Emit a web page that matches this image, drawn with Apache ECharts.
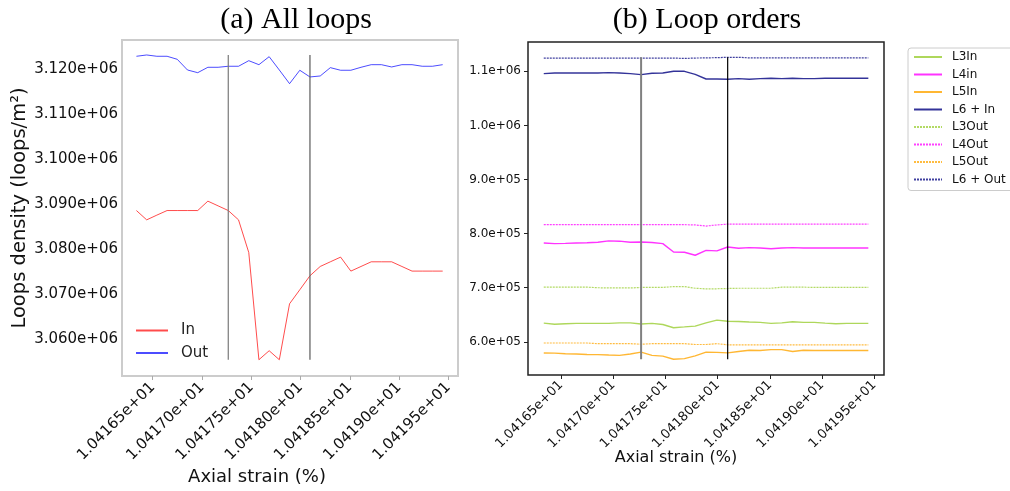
<!DOCTYPE html>
<html>
<head>
<meta charset="utf-8">
<script src="https://cdn.jsdelivr.net/npm/echarts@6/dist/echarts.min.js"></script>
<style>
html,body{margin:0;padding:0;background:#fff;}
#chart{width:1010px;height:491px;}
</style>
</head>
<body>
<div id="chart"></div>
<script>
// ---- data ----
const strain = [10.416335,10.416439,10.416542,10.416646,10.416749,10.416853,10.416957,10.417060,10.417164,10.417267,
  10.417371,10.417475,10.417578,10.417682,10.417785,10.417889,10.417993,10.418096,10.418200,10.418303,
  10.418407,10.418511,10.418614,10.418718,10.418821,10.418925,10.419029,10.419132,10.419236,10.419339,10.419443];

const allIn = [3088580,3086510,3087560,3088580,3088580,3088580,3088580,3090670,3089620,3088580,
  3086510,3079240,3055400,3057400,3055400,3067840,3070960,3074070,3076140,3077180,
  3078220,3075110,3076140,3077180,3077180,3077180,3076140,3075110,3075110,3075110,3075110];
const allOut = [3122890,3123180,3122890,3122890,3122220,3119840,3119240,3120440,3120440,3120670,
  3120670,3121910,3121020,3122800,3119840,3116800,3119780,3118290,3118510,3120360,
  3119780,3119780,3120440,3121020,3121020,3120510,3121020,3121020,3120670,3120670,3121020];

const L3In = [634500,632500,633500,634000,634000,634000,634000,635000,635000,633000,
  634000,632000,626000,627500,629000,635000,640000,638000,637500,636500,
  636000,634000,635000,637000,636000,636000,634500,633500,634000,634000,634000];
const L4In = [782600,781500,782000,782600,783000,784000,786500,786000,784000,784500,
  783500,781500,766000,765500,760000,769000,768000,775200,772800,774000,
  773500,772000,773500,774000,773400,773400,773400,773400,773400,773400,773400];
const L5In = [579300,579000,578000,577500,576500,576300,575500,575000,577500,581000,
  575000,573500,567700,569000,574000,581000,580500,579500,582000,584500,
  584000,585500,585500,582000,584500,584000,584000,584000,584000,584000,584000];
const L6In = [1095750,1096860,1096860,1096860,1096860,1096860,1097600,1096860,1095750,1093900,
  1096300,1096860,1100000,1100000,1094450,1085770,1085770,1085210,1086510,1085210,
  1086510,1087060,1086510,1087060,1086510,1086510,1087060,1087060,1087060,1087060,1087060];
const L3Out = [701000,701000,701000,701000,701000,700000,699500,699500,699500,700500,
  700500,700500,702000,702000,699000,697800,698000,698500,699000,699000,
  699000,699000,701000,701000,701000,700500,700500,700500,700500,700500,700500];
const L4Out = [816500,816500,816500,816500,816500,816500,816500,816500,816500,816500,
  816500,816500,816500,816500,816000,814000,816000,817500,817500,817500,
  817500,817500,817500,817500,817500,817500,817500,817500,817500,817500,817500];
const L5Out = [597800,597800,597800,597800,597800,596500,596500,596500,596500,595500,
  596500,596500,596500,596500,595000,595000,596500,594500,594500,594500,
  594500,594500,594500,594500,594500,594500,594500,594500,594500,594500,594500];
const L6Out = [1124500,1124500,1124500,1124500,1124500,1124500,1124500,1124500,1124500,1124500,
  1124500,1124500,1124500,1123800,1124500,1124800,1125200,1125900,1125900,1124800,
  1124800,1124800,1124800,1124800,1124800,1124800,1124800,1124800,1124800,1124800,1124800];

const xTicks = [10.4165,10.4170,10.4175,10.4180,10.4185,10.4190,10.4195];
const leftYTicks = [3060000,3070000,3080000,3090000,3100000,3110000,3120000];
const rightYTicks = [600000,700000,800000,900000,1000000,1100000];
const markIdx = [9,17];

// ---- helpers ----
function fmtExp(v, d){
  return Number(v).toExponential(d).replace(/e([+-])(\d+)$/, function(m,s,e){ return 'e'+s+(e.length<2?'0'+e:e); });
}
function pairs(arr){ return strain.map(function(x,i){ return [x, arr[i]]; }); }
const FONT = 'DejaVu Sans';

const leftAll = allIn.concat(allOut);
const leftMin = Math.min.apply(null,leftAll), leftMax = Math.max.apply(null,leftAll);
const rightAll = [].concat(L3In,L4In,L5In,L6In,L3Out,L4Out,L5Out,L6Out);
const rightMin = Math.min.apply(null,rightAll), rightMax = Math.max.apply(null,rightAll);

const series = [];
series.push({name:'In', type:'line', xAxisIndex:0, yAxisIndex:0, data:pairs(allIn), symbol:'none',
  lineStyle:{color:'rgba(255,0,0,0.7)', width:1}, itemStyle:{color:'rgba(255,0,0,0.7)'}});
series.push({name:'Out', type:'line', xAxisIndex:0, yAxisIndex:0, data:pairs(allOut), symbol:'none',
  lineStyle:{color:'rgba(0,0,255,0.7)', width:1}, itemStyle:{color:'rgba(0,0,255,0.7)'}});
const leftVColors = ['#7a7a7a','#5a5a5a'];
markIdx.forEach(function(k,j){
  series.push({type:'line', xAxisIndex:0, yAxisIndex:0, symbol:'none', silent:true,
    data:[[strain[k], leftMin],[strain[k], leftMax]], lineStyle:{color:leftVColors[j], width:1.2}});
});

const rightDefs = [
  ['L3In', L3In, '#9acd32', 'solid'],
  ['L4in', L4In, '#ff00ff', 'solid'],
  ['L5In', L5In, '#ffa500', 'solid'],
  ['L6 + In', L6In, '#000080', 'solid'],
  ['L3Out', L3Out, '#9acd32', 'dotted'],
  ['L4Out', L4Out, '#ff00ff', 'dotted'],
  ['L5Out', L5Out, '#ffa500', 'dotted'],
  ['L6 + Out', L6Out, '#000080', 'dotted']
];
rightDefs.forEach(function(d){
  const solid = d[3]==='solid';
  series.push({name:d[0], type:'line', xAxisIndex:1, yAxisIndex:1, data:pairs(d[1]), symbol:'none',
    lineStyle:{color:d[2], width: solid?1.4:1.2, opacity: solid?0.8:0.75, type: solid?'solid':[2,1]},
    itemStyle:{color:d[2]}});
});
const rightVStyles = [{color:'#808080', width:2},{color:'#000000', width:1.2}];
markIdx.forEach(function(k,j){
  series.push({type:'line', xAxisIndex:1, yAxisIndex:1, symbol:'none', silent:true, z:3,
    data:[[strain[k], rightMin],[strain[k], rightMax]], lineStyle:rightVStyles[j]});
});

const option = {
  animation:false,
  backgroundColor:'#ffffff',
  title:[
    {text:'(a) All loops', left:291, top:0, textAlign:'center',
      textStyle:{fontFamily:'Liberation Serif', fontSize:30, fontWeight:'normal', color:'#000'}},
    {text:'(b) Loop orders', left:702, top:0, textAlign:'center',
      textStyle:{fontFamily:'Liberation Serif', fontSize:30, fontWeight:'normal', color:'#000'}}
  ],
  legend:[
    {data:['In','Out'], left:135, top:323, orient:'vertical', itemWidth:32, itemHeight:16, itemGap:7.5,
      padding:0, itemStyle:{opacity:0},
      textStyle:{fontFamily:FONT, fontSize:15, color:'#222', padding:[0,0,0,8]}},
    {data:rightDefs.map(function(d){return d[0];}), left:908, top:48, orient:'vertical',
      itemWidth:28, itemHeight:14, itemGap:5.5, padding:[3,12,5,5], itemStyle:{opacity:0},
      borderColor:'#cccccc', borderWidth:1, borderRadius:3, backgroundColor:'#fff',
      textStyle:{fontFamily:FONT, fontSize:12, color:'#111', padding:[0,0,0,5]}}
  ],
  grid:[
    {left:122, top:40, width:336, height:336, show:true, borderColor:'#cccccc', borderWidth:2, backgroundColor:'transparent'},
    {left:528, top:42, width:356, height:333, show:true, borderColor:'#222222', borderWidth:1.5, backgroundColor:'transparent'}
  ],
  xAxis:[
    {type:'value', gridIndex:0, min:10.4161885, max:10.4195984,
      name:'Axial strain (%)', nameLocation:'middle', nameGap:92, nameMoveOverlap:false,
      nameTextStyle:{fontFamily:FONT, fontSize:18, color:'#111', padding:[0,66,0,0]},
      axisLine:{show:false}, splitLine:{show:false},
      axisTick:{show:true, length:4, lineStyle:{color:'#aaaaaa'}, customValues:xTicks},
      axisLabel:{rotate:45, margin:9, fontFamily:FONT, fontSize:15, color:'#111', customValues:xTicks,
        formatter:function(v){return fmtExp(v,5);}}},
    {type:'value', gridIndex:1, min:10.416184, max:10.419593,
      name:'Axial strain (%)', nameLocation:'middle', nameGap:75, nameMoveOverlap:false,
      nameTextStyle:{fontFamily:FONT, fontSize:16, color:'#111', padding:[0,60,0,0]},
      axisLine:{show:false}, splitLine:{show:false},
      axisTick:{show:true, length:4, lineStyle:{color:'#222'}, customValues:xTicks},
      axisLabel:{rotate:45, margin:8, fontFamily:FONT, fontSize:13, color:'#111', customValues:xTicks,
        formatter:function(v){return fmtExp(v,5);}}}
  ],
  yAxis:[
    {type:'value', gridIndex:0, min:3051780, max:3126510,
      name:'Loops density (loops/m\u00b2)', nameLocation:'middle', nameGap:92, nameMoveOverlap:false,
      nameTextStyle:{fontFamily:FONT, fontSize:19.5, color:'#111'},
      axisLine:{show:false}, splitLine:{show:false}, axisTick:{show:false},
      axisLabel:{margin:4, fontFamily:FONT, fontSize:15, color:'#111', customValues:leftYTicks,
        formatter:function(v){return fmtExp(v,3);}}},
    {type:'value', gridIndex:1, min:538641, max:1154160,
      axisLine:{show:false}, splitLine:{show:false},
      axisTick:{show:true, length:4, lineStyle:{color:'#222'}, customValues:rightYTicks},
      axisLabel:{margin:7, fontFamily:FONT, fontSize:12, color:'#111', customValues:rightYTicks,
        formatter:function(v){return fmtExp(v,1);}}}
  ],
  series:series
};
const chart = echarts.init(document.getElementById('chart'), null, {renderer:'canvas'});
chart.setOption(option);
</script>
</body>
</html>
